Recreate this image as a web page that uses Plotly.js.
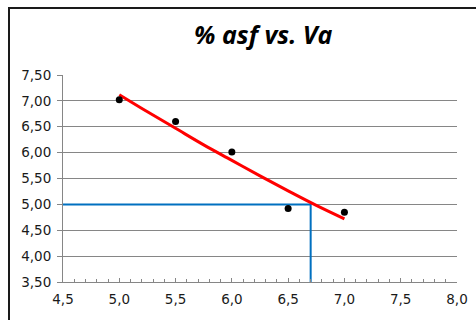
<!DOCTYPE html>
<html><head><meta charset="utf-8">
<script src="https://cdn.plot.ly/plotly-3.0.1.min.js"></script>
<style>
body{margin:0;}
#wrap{position:relative;width:476px;height:320px;overflow:hidden;background:#fff}
#chart{width:476px;height:320px}
#frame{position:absolute;left:8px;top:7px;width:480px;height:330px;border:2px solid #1a1a1a;pointer-events:none}
</style>
</head><body><div id="wrap"><div id="chart"></div><div id="frame"></div></div>
<script>
const vaValues = [5.0, 5.5, 6.0, 6.5, 7.0];
const asfValues = [7.02, 6.60, 6.01, 4.92, 4.85];
const trendX = [5.0, 5.25, 5.5, 5.75, 6.0, 6.25, 6.5, 6.75, 7.0];
const trendY = [7.12, 6.79, 6.47, 6.15, 5.85, 5.55, 5.26, 4.98, 4.72];
const refX = [4.5, 6.7, 6.7];
const refY = [5.0, 5.0, 3.5];
const xTicks = [4.5, 5.0, 5.5, 6.0, 6.5, 7.0, 7.5, 8.0];
const xTickLabels = ["4,5", "5,0", "5,5", "6,0", "6,5", "7,0", "7,5", "8,0"];
const yTicks = [3.5, 4.0, 4.5, 5.0, 5.5, 6.0, 6.5, 7.0, 7.5];
const yTickLabels = ["3,50", "4,00", "4,50", "5,00", "5,50", "6,00", "6,50", "7,00", "7,50"];

const traces = [
  {x: refX, y: refY, mode: 'lines', line: {color: '#0070C0', width: 2}, hoverinfo: 'skip', cliponaxis: false},
  {x: trendX, y: trendY, mode: 'lines', line: {color: '#FF0000', width: 3, shape: 'spline'}},
  {x: vaValues, y: asfValues, mode: 'markers', marker: {color: '#000', size: 7}}
];
const axisFont = {family: 'DejaVu Sans', size: 13.5, color: '#1a1a1a'};
const layout = {
  width: 476, height: 320,
  margin: {l: 63, r: 19, t: 75, b: 38, pad: 0},
  paper_bgcolor: 'rgba(0,0,0,0)', plot_bgcolor: 'rgba(0,0,0,0)',
  showlegend: false,
  title: {text: '<b><i>% asf vs. Va</i></b>', font: {family: 'Open Sans', size: 25, color: '#000'}, x: 0.553, xanchor: 'center', y: 0.89, yanchor: 'middle'},
  xaxis: {range: [4.5, 8.0], tickvals: xTicks, ticktext: xTickLabels, showgrid: false, zeroline: false,
    showline: true, linecolor: '#868686', linewidth: 1, ticks: 'inside', ticklen: 4, tickcolor: '#868686',
    minor: {dtick: 0.1, ticks: 'inside', ticklen: 3, tickcolor: '#868686', showgrid: false},
    tickfont: axisFont, ticklabelstandoff: 5},
  yaxis: {range: [3.5, 7.5], tickvals: yTicks, ticktext: yTickLabels, showgrid: true, gridcolor: '#868686', gridwidth: 1,
    zeroline: false, showline: true, linecolor: '#868686', linewidth: 1, ticks: 'outside', ticklen: 5, tickcolor: '#868686',
    tickfont: axisFont, ticklabelstandoff: 3}
};
Plotly.newPlot('chart', traces, layout, {staticPlot: true, displayModeBar: false});
</script>
</body></html>
